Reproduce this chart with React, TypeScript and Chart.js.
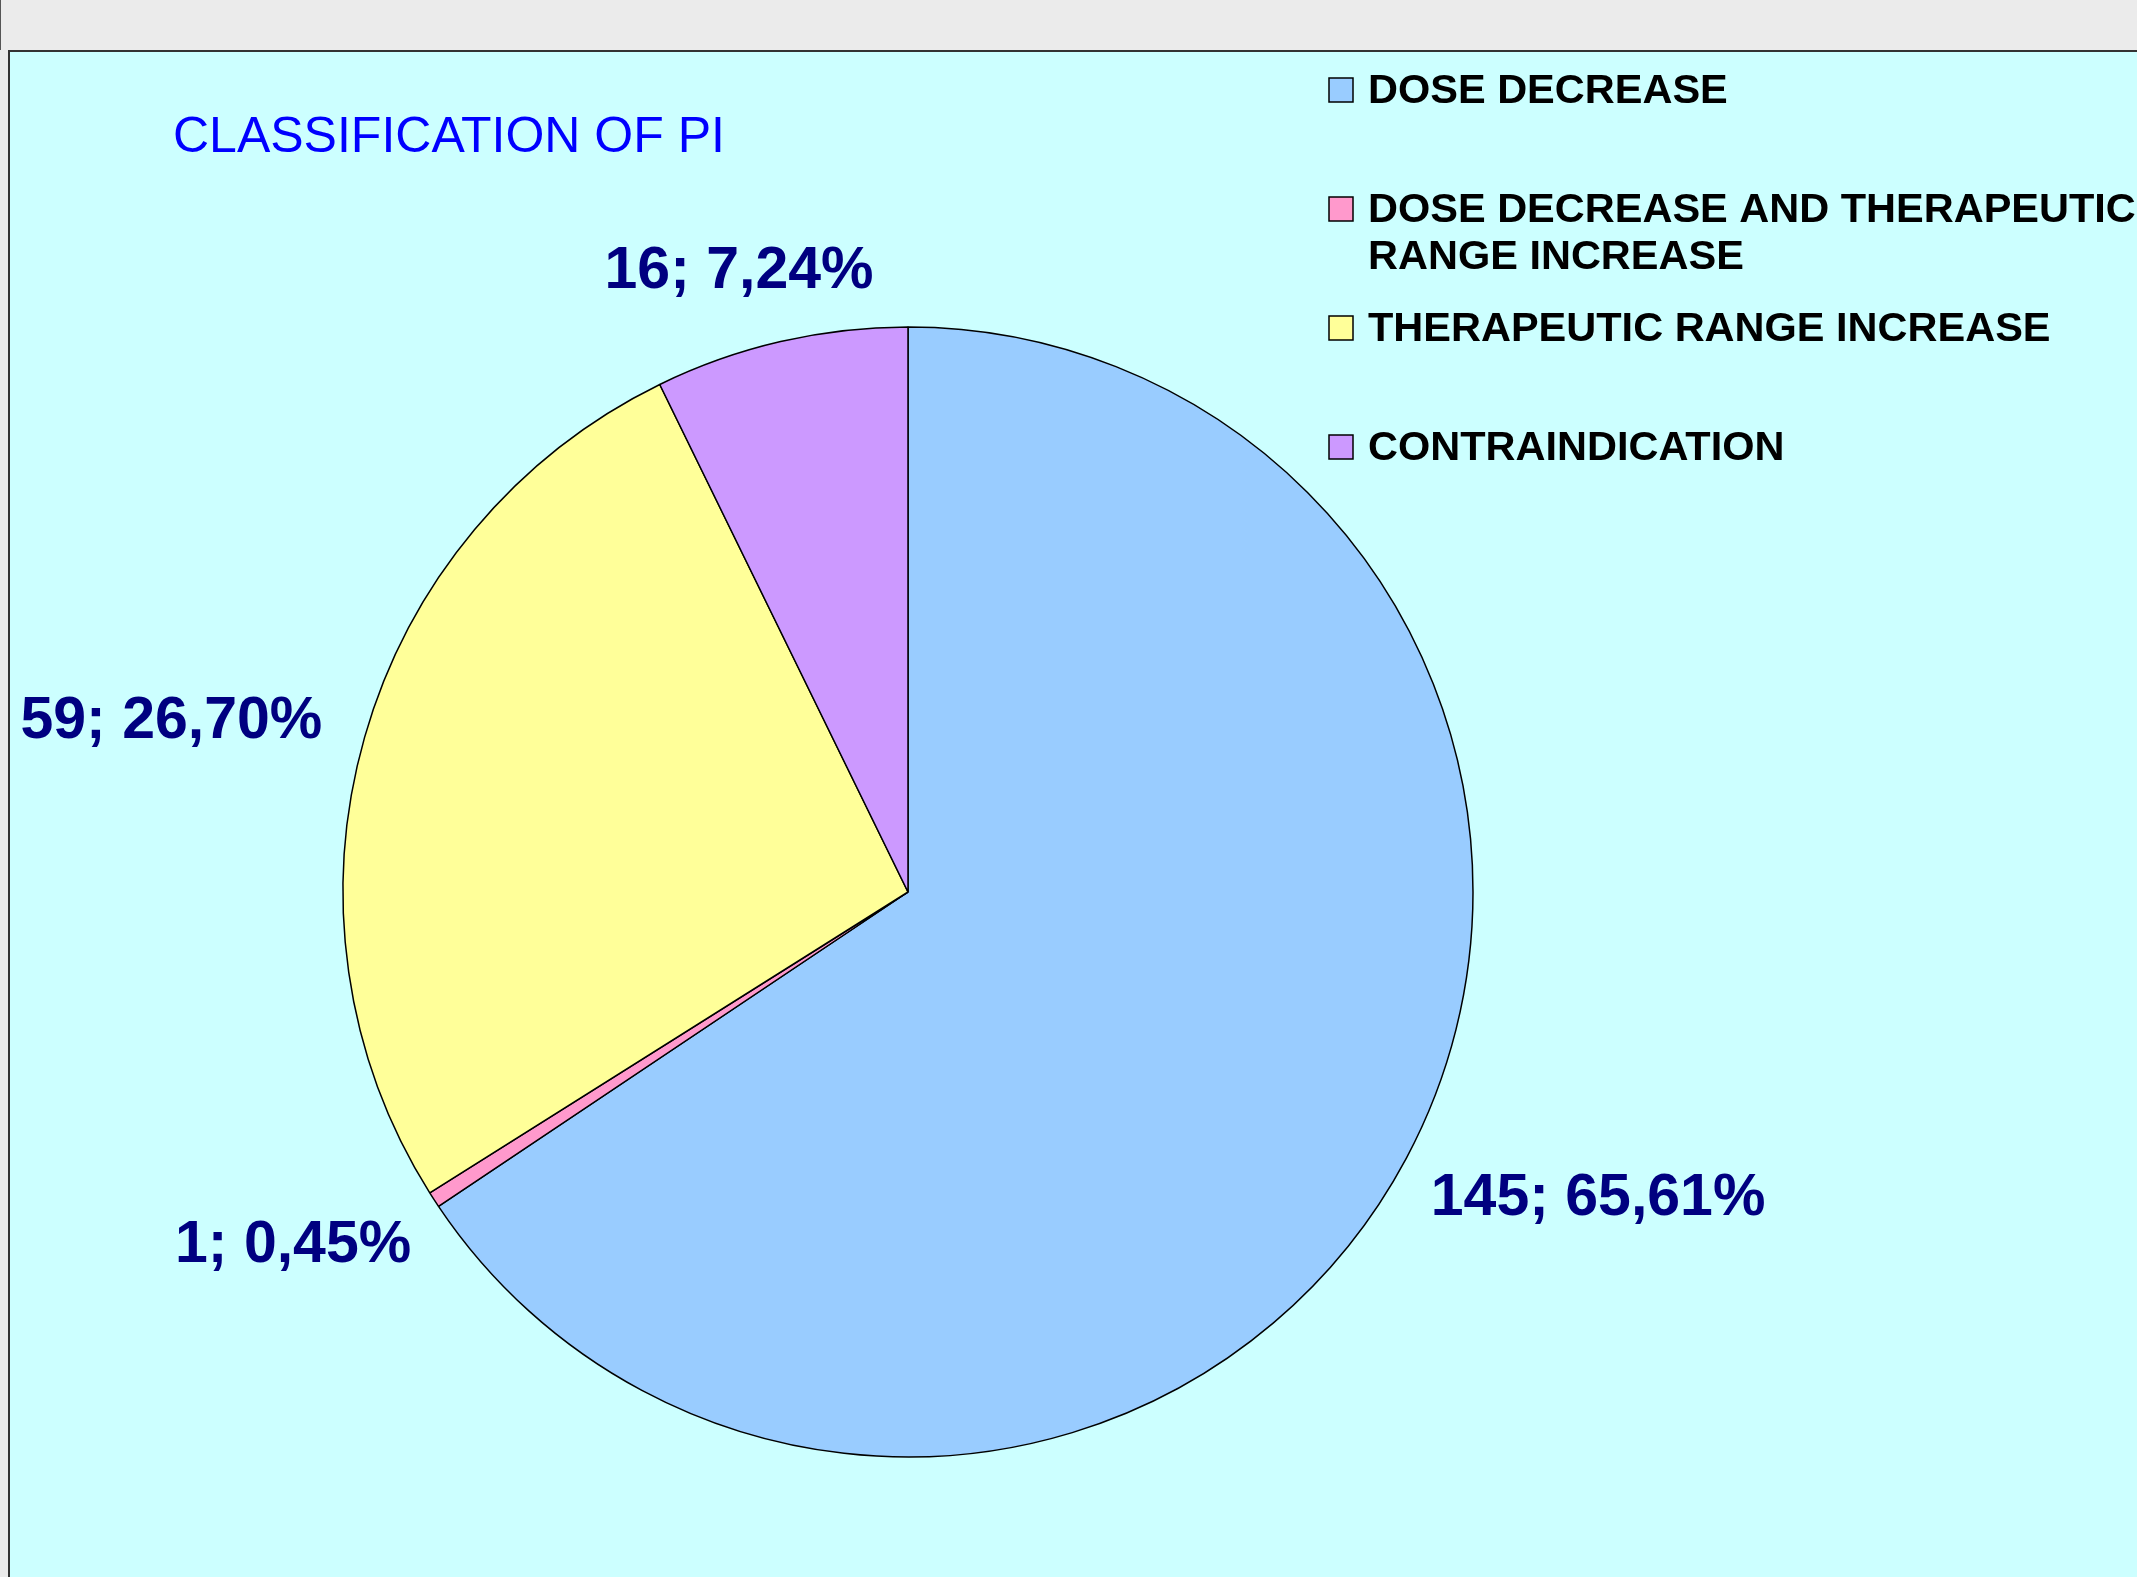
import React, { useEffect, useRef } from "react";
import { Chart, registerables } from "chart.js";

Chart.register(...registerables);

// ---- data ----
const categories = [
  "DOSE DECREASE",
  "DOSE DECREASE AND THERAPEUTIC RANGE INCREASE",
  "THERAPEUTIC RANGE INCREASE",
  "CONTRAINDICATION",
];
const counts = [145, 1, 59, 16];
const sliceColors = ["#99CCFF", "#FF99CC", "#FFFF99", "#CC99FF"];
const chartTitle = "CLASSIFICATION OF PI";

// ---- layout ----
const PAGE_W = 2137;
const PAGE_H = 1577;
const FRAME_LEFT = 8;
const FRAME_TOP = 50;
const FRAME_BORDER = 2;
const CANVAS_X = FRAME_LEFT + FRAME_BORDER;
const CANVAS_Y = FRAME_TOP + FRAME_BORDER;
const CANVAS_W = PAGE_W - CANVAS_X;
const CANVAS_H = PAGE_H - CANVAS_Y;

const PIE_CX = 898;
const PIE_CY = 840;
const PIE_R = 565;
const AREA_HALF = 600;

const FONT = '"Liberation Sans", Arial, Helvetica, sans-serif';

const titlePlugin = {
  id: "customTitle",
  afterDraw(chart: any) {
    const ctx = chart.ctx;
    ctx.save();
    ctx.font = `normal 50px ${FONT}`;
    ctx.fillStyle = "#0000FF";
    ctx.textAlign = "left";
    ctx.textBaseline = "alphabetic";
    ctx.fillText(chartTitle, 163, 100);
    ctx.restore();
  },
};

const legendPlugin = {
  id: "customLegend",
  afterDraw(chart: any) {
    const ctx = chart.ctx;
    const labels: string[] = chart.data.labels;
    const colors: string[] = chart.data.datasets[0].backgroundColor;
    const boxX = 1319;
    const textX = 1358;
    const firstBaseline = 51;
    const step = 119;
    const lineH = 47;
    const maxW = 790;
    ctx.save();
    ctx.font = `bold 41.5px ${FONT}`;
    ctx.textAlign = "left";
    ctx.textBaseline = "alphabetic";
    labels.forEach((label, i) => {
      const base = firstBaseline + i * step;
      ctx.fillStyle = colors[i];
      ctx.fillRect(boxX, base - 25, 24, 24);
      ctx.lineWidth = 1.5;
      ctx.strokeStyle = "#000000";
      ctx.strokeRect(boxX, base - 25, 24, 24);
      const words = label.split(" ");
      const lines: string[] = [];
      let cur = "";
      words.forEach((w) => {
        const test = cur ? cur + " " + w : w;
        if (cur && ctx.measureText(test).width > maxW) {
          lines.push(cur);
          cur = w;
        } else {
          cur = test;
        }
      });
      if (cur) lines.push(cur);
      ctx.fillStyle = "#000000";
      lines.forEach((ln, j) => ctx.fillText(ln, textX, base + j * lineH));
    });
    ctx.restore();
  },
};

const dataLabelPlugin = {
  id: "sliceLabels",
  afterDatasetsDraw(chart: any) {
    const ctx = chart.ctx;
    const meta = chart.getDatasetMeta(0);
    const values: number[] = chart.data.datasets[0].data;
    const total = values.reduce((a, b) => a + b, 0);
    const fontSize = 59;
    const capH = fontSize * 0.716;
    const gap = 50;
    ctx.save();
    ctx.font = `bold ${fontSize}px ${FONT}`;
    ctx.fillStyle = "#000080";
    ctx.textAlign = "center";
    ctx.textBaseline = "alphabetic";
    meta.data.forEach((arc: any, i: number) => {
      const p = arc.getProps(["x", "y", "startAngle", "endAngle", "outerRadius"], true);
      const mid = (p.startAngle + p.endAngle) / 2;
      const pct = ((values[i] / total) * 100).toFixed(2).replace(".", ",");
      const text = `${values[i]}; ${pct}%`;
      const w = ctx.measureText(text).width;
      const c = Math.cos(mid);
      const s = Math.sin(mid);
      const cx = p.x + (p.outerRadius + gap) * c + (c * w) / 2;
      const cy = p.y + (p.outerRadius + gap) * s + s * fontSize * 0.45;
      ctx.fillText(text, cx, cy + capH / 2);
    });
    ctx.restore();
  },
};

export default function App() {
  const ref = useRef<HTMLCanvasElement | null>(null);

  useEffect(() => {
    if (!ref.current) return;
    const chart = new Chart(ref.current, {
      type: "pie",
      data: {
        labels: categories,
        datasets: [
          {
            data: counts,
            backgroundColor: sliceColors,
            borderColor: "#000000",
            borderWidth: 1.5,
            radius: PIE_R,
          } as any,
        ],
      },
      options: {
        responsive: false,
        maintainAspectRatio: false,
        animation: false,
        devicePixelRatio: 1,
        layout: {
          padding: {
            left: PIE_CX - AREA_HALF,
            top: PIE_CY - AREA_HALF,
            right: CANVAS_W - PIE_CX - AREA_HALF,
            bottom: CANVAS_H - PIE_CY - AREA_HALF,
          },
        },
        plugins: {
          legend: { display: false },
          title: { display: false },
          tooltip: { enabled: false },
        },
      },
      plugins: [titlePlugin, legendPlugin, dataLabelPlugin],
    });
    return () => chart.destroy();
  }, []);

  return (
    <div
      style={{
        position: "absolute",
        left: 0,
        top: 0,
        width: PAGE_W,
        height: PAGE_H,
        background: "#EBEBEB",
        overflow: "hidden",
      }}
    >
      <div
        style={{
          position: "absolute",
          left: 0,
          top: 0,
          width: 1,
          height: FRAME_TOP,
          background: "#555555",
        }}
      />
      <div
        style={{
          position: "absolute",
          left: FRAME_LEFT,
          top: FRAME_TOP,
          width: PAGE_W,
          height: PAGE_H,
          background: "#CCFFFF",
          borderLeft: `${FRAME_BORDER}px solid #333333`,
          borderTop: `${FRAME_BORDER}px solid #333333`,
        }}
      />
      <canvas
        ref={ref}
        width={CANVAS_W}
        height={CANVAS_H}
        style={{
          position: "absolute",
          left: CANVAS_X,
          top: CANVAS_Y,
          width: CANVAS_W,
          height: CANVAS_H,
        }}
      />
    </div>
  );
}
